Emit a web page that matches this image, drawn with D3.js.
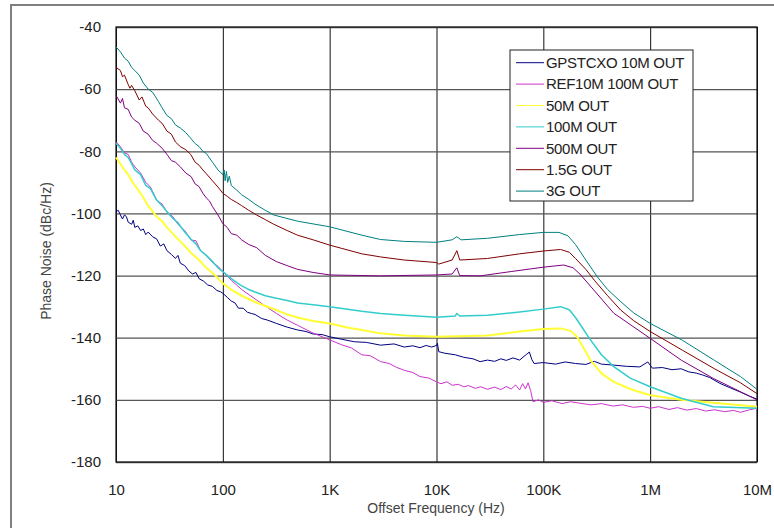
<!DOCTYPE html>
<html><head><meta charset="utf-8">
<script src="https://cdn.jsdelivr.net/npm/d3@7"></script>
<style>
body{margin:0;background:#fff;}
svg{display:block;font-family:"Liberation Sans",Arial,sans-serif;}
</style></head>
<body>
<svg id="c" width="774" height="528"></svg>
<script>
const seriesNames = ["GPSTCXO 10M OUT","REF10M 100M OUT","50M OUT","100M OUT","500M OUT","1.5G OUT","3G OUT"];
const seriesColors = ["#000080","#cc33cc","#ffff33","#33cccc","#800080","#800000","#008080"];
const xTickValues = [10,100,1e3,1e4,1e5,1e6,1e7];
const xTickLabels = ["10","100","1K","10K","100K","1M","10M"];
const yTickValues = [-40,-60,-80,-100,-120,-140,-160,-180];

const gpstcxo = [[10,-99.4],[10.5,-99],[11,-100.5],[11.5,-101.8],[12,-100.5],[12.5,-101],[13,-102.8],[14,-103.5],[14.5,-102.2],[15,-104.5],[16,-104],[17,-105.5],[18,-105],[19,-106.8],[20,-106],[22,-107.5],[24,-108.2],[26,-110.5],[28,-109.8],[30,-112],[33,-113.2],[36,-114.5],[38,-113.5],[40,-116],[44,-116.8],[48,-118.5],[52,-119.5],[56,-119],[60,-121],[66,-121.8],[72,-123],[80,-123.5],[88,-124.8],[95,-125.2],[100,-125.7],[110,-127],[120,-128.2],[130,-128.8],[140,-130.5],[155,-130.5],[170,-131.8],[185,-132.2],[200,-132.5],[230,-133.8],[260,-134.3],[317,-135.4],[400,-136.6],[500,-137.5],[600,-138],[700,-138.8],[850,-139],[1000,-139.7],[1300,-140.5],[1700,-141.3],[2200,-141.5],[3000,-142.4],[4000,-142],[5000,-143],[6000,-142.6],[7000,-143.2],[8000,-142.5],[9000,-143],[10000,-142.5],[10200,-141.8],[10500,-144.5],[12000,-145],[15000,-145.5],[18000,-146.3],[22000,-146.8],[25600,-147.7],[30000,-147.2],[35000,-147.6],[40000,-146.8],[45000,-147.3],[52000,-146.5],[60000,-147.2],[66000,-146],[70000,-145.3],[74000,-144.6],[78000,-147],[82000,-148.3],[100000,-148],[130000,-148.5],[160000,-147.8],[200000,-148.3],[250000,-148.6],[300000,-147.6],[350000,-148.5],[450000,-148.8],[600000,-149.2],[800000,-149.4],[950000,-147.8],[1050000,-149.8],[1300000,-149.6],[1600000,-150.3],[1950000,-150],[2300000,-151],[2700000,-151.4],[3100000,-152],[3600000,-152.8],[4500000,-154.7],[5500000,-156],[7000000,-157.5],[8500000,-158.8],[10000000,-159.8]];
const ref10m = [[10,-76.9],[11,-78.5],[12,-80.5],[13,-81],[14,-83.5],[15,-85],[17,-87],[19,-90],[21,-91.5],[24,-95.7],[27,-97],[30,-99.5],[34,-101],[38,-103.5],[44,-105.5],[50.6,-108.6],[56,-108.8],[62,-112],[70,-113.5],[80,-115.8],[90,-117],[100,-118.7],[120,-121.5],[150,-124.5],[200,-127.5],[250,-129.8],[317,-132.2],[400,-134.3],[500,-136],[700,-138.5],[1000,-140.7],[1300,-142.3],[1600,-143.3],[2000,-145.5],[2400,-145.8],[3000,-147.7],[3600,-148.3],[4200,-149.5],[5000,-150.5],[6000,-151.2],[7000,-152.5],[8500,-153],[10000,-154.2],[11000,-154.8],[12500,-154.2],[14000,-155.3],[16000,-155],[18000,-155.8],[20000,-155.4],[23000,-156.3],[26000,-155.8],[30000,-156.6],[35000,-155.9],[40000,-156.7],[45000,-155.7],[50000,-156.5],[55000,-155.2],[60000,-156.8],[64000,-154.8],[68000,-156.5],[72000,-154.5],[76000,-157],[80000,-160.6],[90000,-160],[100000,-160.8],[120000,-160.3],[150000,-161.2],[180000,-160.6],[221000,-161.1],[280000,-161.6],[350000,-161.2],[450000,-162],[550000,-161.6],[700000,-162.4],[850000,-162.1],[1000000,-162.7],[1200000,-162.2],[1500000,-163.1],[1800000,-162.5],[2200000,-163.3],[2700000,-162.8],[3300000,-163.6],[4000000,-163.2],[5000000,-163.8],[6000000,-163.4],[7000000,-164],[8500000,-163.2],[10000000,-162.7]];
const out50m = [[10,-82],[11,-84],[12,-86],[13,-87.5],[14,-89.5],[15,-91],[17,-93.5],[20,-97.5],[24,-101],[27,-102.5],[30,-104.5],[35,-107],[40,-109],[45,-110.8],[50.6,-112.8],[60,-115],[70,-117.5],[85,-120],[100,-122.5],[120,-124.5],[150,-126.5],[200,-128.5],[250,-129.8],[317,-131.1],[400,-132.5],[500,-133.5],[700,-134.6],[1000,-135.4],[1500,-136.8],[2000,-137.5],[3000,-138.6],[5000,-139.3],[10000,-139.7],[16000,-139.5],[30000,-139.3],[60000,-138],[100000,-137.2],[145000,-137],[180000,-137.8],[207000,-139.7],[276000,-147.2],[350000,-151.5],[456000,-154.2],[650000,-156.5],[1000000,-158.5],[1950000,-160],[3900000,-160.9],[10000000,-162.2]];
const out100m = [[10,-77.4],[11,-79],[12,-81],[13,-82],[14,-84],[15,-86],[17,-87.5],[19,-91],[21,-92],[24,-95.7],[27,-97.5],[30,-99.5],[34,-101.5],[38,-103],[44,-106],[50.6,-108.4],[56,-109.8],[62,-112],[70,-113.5],[80,-115.5],[90,-117.5],[100,-118.7],[120,-121],[145,-123],[170,-124.3],[200,-125.3],[250,-126.5],[317,-127.3],[400,-128],[500,-128.8],[700,-129.4],[1000,-130],[2000,-131.5],[3000,-132.2],[5000,-132.8],[10000,-133.4],[15000,-133],[15500,-132.2],[16500,-133],[30000,-132.8],[60000,-131.7],[100000,-130.8],[145000,-130],[175000,-131],[200000,-133.5],[276000,-140.7],[350000,-145.5],[456000,-149.3],[650000,-153],[1000000,-155.8],[1950000,-159.5],[3900000,-162.2],[10000000,-162.7]];
const out500m = [[10,-62],[11,-64.5],[11.5,-63],[12,-66],[13,-66.5],[14,-69],[15,-70],[16.5,-71],[18,-73.5],[20,-74.5],[22,-76.5],[24,-77.4],[27,-79],[30,-81],[33,-83],[36,-83.5],[40,-85],[45,-87],[50.6,-88.2],[55,-90.5],[60,-91.4],[65,-93.5],[70,-95],[75,-96],[80,-97.8],[90,-100.5],[100,-103.3],[110,-104.5],[120,-106.5],[135,-107],[150,-108.5],[175,-110],[207,-111],[250,-113.5],[317,-115.5],[400,-116.8],[500,-118],[700,-119],[1000,-119.8],[3000,-120.1],[10000,-119.8],[14000,-119.5],[15500,-117.5],[16500,-120],[25600,-120.1],[50000,-118.7],[100000,-117.3],[155000,-116.6],[190000,-117.5],[220000,-119.5],[296000,-124.6],[456000,-132.1],[1000000,-140.2],[1950000,-147.2],[3900000,-153.1],[10000000,-160]];
const out1g5 = [[10,-53],[11,-54],[11.5,-56],[12,-55.5],[13,-58.5],[13.5,-59.7],[14,-58.8],[15,-60.5],[16.5,-63.5],[17.5,-62.5],[19,-65.5],[20,-66],[22,-68],[25,-70],[27,-71],[30,-73.5],[33,-74.5],[36,-77],[40,-78.5],[45,-79.5],[50,-81],[55,-83.5],[60,-84.5],[65,-86],[70,-87.2],[80,-89.5],[90,-91.5],[100,-93.5],[110,-94.5],[120,-95.5],[135,-96.5],[150,-97.5],[175,-99],[207,-100.5],[250,-102],[300,-103.5],[400,-105.5],[500,-107],[700,-108.5],[1000,-110.2],[2000,-113],[3000,-114],[5000,-115],[10000,-115.8],[10500,-116.3],[14000,-115],[15500,-112],[16500,-115],[30000,-114.5],[60000,-113],[100000,-112.1],[145000,-111.6],[175000,-112.5],[200000,-114.5],[250000,-118],[300000,-121.5],[400000,-126.5],[530000,-131.1],[700000,-134.5],[1000000,-138],[2000000,-144],[4000000,-150],[7000000,-154.5],[10000000,-158]];
const out3g = [[10,-46.4],[11,-48],[12,-50],[13,-51],[14,-53],[15,-54],[16.5,-55.5],[18,-58],[20,-60],[22,-61],[25,-64],[27,-66],[30,-68.5],[33,-69.5],[36,-71.5],[40,-72.5],[45,-74],[50,-75.8],[55,-77.5],[60,-78.5],[65,-80],[70,-80.7],[80,-83.5],[90,-86],[100,-87.5],[103,-86],[105,-89.5],[108,-86.5],[111,-90],[115,-88],[120,-91],[135,-92.5],[150,-94],[175,-95.5],[200,-97],[250,-99],[300,-100.5],[500,-102.5],[1000,-104.3],[2000,-107],[3000,-108.4],[5000,-109],[10000,-109.3],[14000,-108.5],[15500,-107.5],[17000,-108.5],[30000,-108],[60000,-106.8],[100000,-106.1],[140000,-106.1],[170000,-107.2],[200000,-110],[250000,-115],[320000,-120.4],[400000,-124.5],[530000,-128.4],[700000,-132],[1000000,-135.4],[2000000,-140.8],[4000000,-147.3],[7000000,-152.5],[10000000,-156.6]];
const seriesData = [gpstcxo, ref10m, out50m, out100m, out500m, out1g5, out3g];
const seriesWidths = [1,1,2,1.5,1,1,1];

const svg = d3.select("#c");
const L=116,R=757,T=27,B=462;
const x = d3.scaleLog().domain([10,1e7]).range([L,R]);
const y = d3.scaleLinear().domain([-180,-40]).range([B,T]);

// outer frame
svg.append("path").attr("d","M11,528V5H774").attr("fill","none").attr("stroke","#808080").attr("stroke-width",2);

// gridlines
const gx = svg.append("g").attr("transform",`translate(0,${B})`)
  .call(d3.axisBottom(x).tickValues(xTickValues).tickSize(-(B-T)).tickFormat((d,i)=>xTickLabels[i]).tickPadding(22));
gx.select(".domain").remove();
gx.selectAll("line").attr("stroke","#111").attr("stroke-width",1);
gx.selectAll("text").attr("font-size",15).attr("fill","#222");

const gy = svg.append("g").attr("transform",`translate(${L},0)`)
  .call(d3.axisLeft(y).tickValues(yTickValues).tickSize(-(R-L)).tickFormat(d=>String(d)).tickPadding(15));
gy.select(".domain").remove();
gy.selectAll("line").attr("stroke","#555").attr("stroke-width",1.3);
gy.selectAll("text").attr("font-size",15).attr("fill","#222");

svg.append("rect").attr("x",L).attr("y",T).attr("width",R-L).attr("height",B-T)
  .attr("fill","none").attr("stroke","#111").attr("stroke-width",1.2);

const line = d3.line().x(d=>x(d[0])).y(d=>y(d[1]));
const plot = svg.append("g");
seriesData.forEach((s,i)=>{
  plot.append("path").datum(s).attr("d",line).attr("fill","none")
    .attr("stroke",seriesColors[i]).attr("stroke-width",seriesWidths[i]).attr("stroke-linejoin","round");
});

// legend
const lg = svg.append("g");
lg.append("rect").attr("x",510).attr("y",50).attr("width",183).attr("height",151)
  .attr("fill","#fff").attr("stroke","#222").attr("stroke-width",1);
seriesNames.forEach((n,i)=>{
  const yy = 62.7 + i*21.4;
  lg.append("line").attr("x1",516).attr("x2",544).attr("y1",yy).attr("y2",yy)
    .attr("stroke",seriesColors[i]).attr("stroke-width",1);
  lg.append("text").attr("x",546).attr("y",yy).attr("dy","0.35em").attr("font-size",15)
    .attr("fill","#222").attr("letter-spacing","-0.3").text(n);
});

// axis titles
svg.append("text").attr("x",436).attr("y",513).attr("text-anchor","middle").attr("font-size",14)
  .attr("fill","#444").text("Offset Frequency (Hz)");
svg.append("text").attr("transform","translate(51,251) rotate(-90)").attr("text-anchor","middle")
  .attr("font-size",14).attr("fill","#444").text("Phase Noise (dBc/Hz)");
</script>
</body></html>
